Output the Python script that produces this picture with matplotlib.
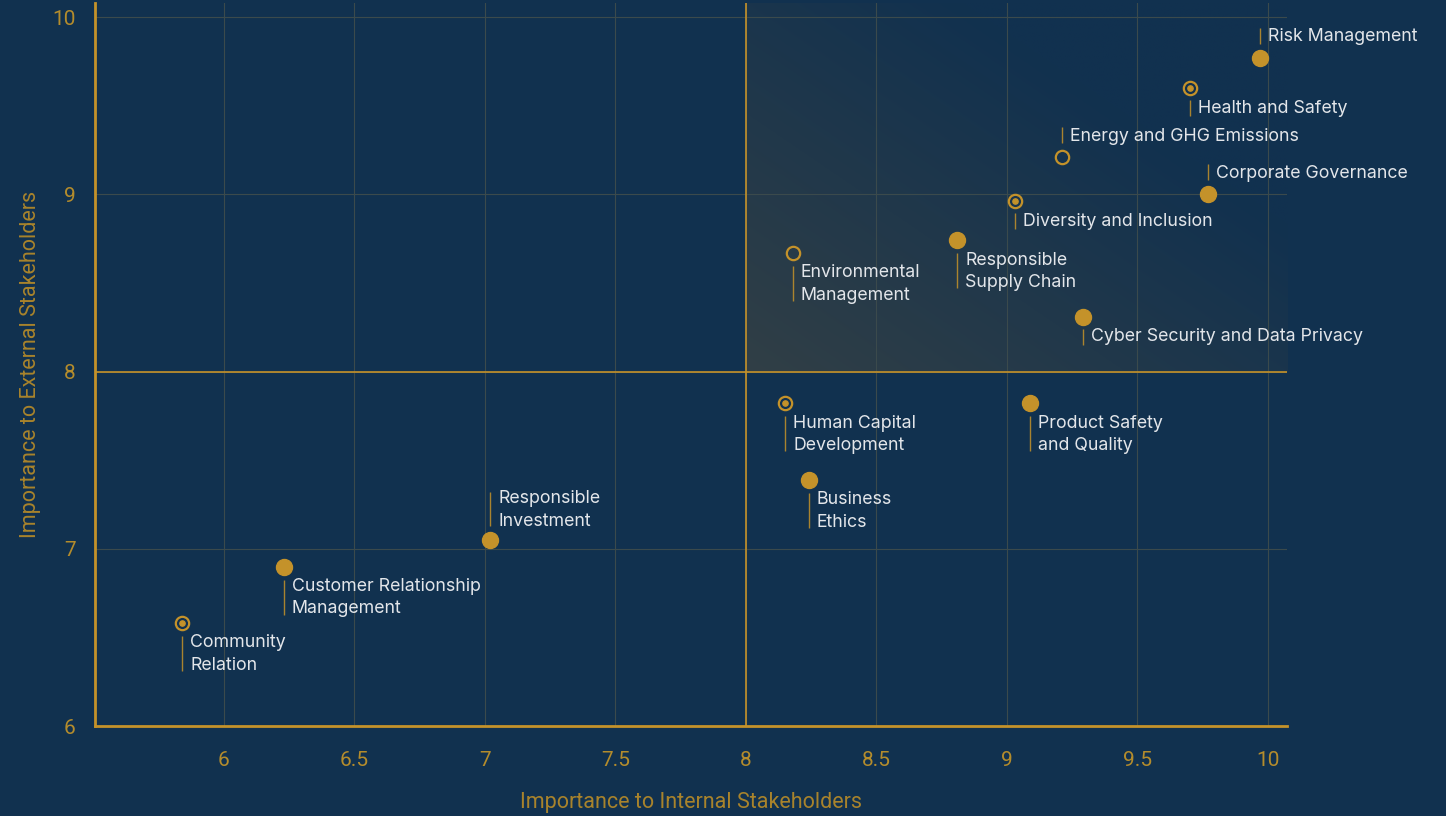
import numpy as np
import matplotlib
matplotlib.use("Agg")
import matplotlib.pyplot as plt

# values
topics = ["Risk Management", "Health and Safety", "Energy and GHG Emissions",
          "Corporate Governance", "Diversity and Inclusion", "Responsible\nSupply Chain",
          "Environmental\nManagement", "Cyber Security and Data Privacy",
          "Human Capital\nDevelopment", "Product Safety\nand Quality", "Business\nEthics",
          "Responsible\nInvestment", "Customer Relationship\nManagement", "Community\nRelation"]
internal = [9.97, 9.70, 9.21, 9.77, 9.03, 8.81, 8.18, 9.29, 8.15, 9.09, 8.24, 7.02, 6.23, 5.84]
external = [9.77, 9.60, 9.21, 9.00, 8.96, 8.74, 8.67, 8.31, 7.82, 7.82, 7.39, 7.05, 6.90, 6.58]
# f = filled, d = ring with dot, o = hollow ring
kind = ["f", "d", "o", "f", "d", "f", "o", "f", "d", "f", "f", "f", "f", "d"]
side = ["up", "down", "up", "up", "down", "down", "down", "down",
        "down", "down", "down", "up", "down", "down"]

xticks = [6, 6.5, 7, 7.5, 8, 8.5, 9, 9.5, 10]
yticks = [6, 7, 8, 9, 10]

navy = "#11314f"
gold = "#c4922a"
txt = "#e3e6ea"
gridc = "#3b4a4c"

fig = plt.figure(figsize=(14.46, 8.16), dpi=100, facecolor=navy)
ax = fig.add_axes([95/1446, 1-726/816, (1287-95)/1446, (726-3)/816])
ax.set_facecolor(navy)
ax.set_xlim(5.506, 10.073)
ax.set_ylim(6, 10.08)

# soft glow in the top-right quadrant
n = 300
u = np.linspace(0, 1, n)
U, V = np.meshgrid(u, u)
s = np.clip((U + V) / 2 / 0.7, 0, 1)[..., None]
light = np.array(matplotlib.colors.to_rgb("#313f46"))
base = np.array(matplotlib.colors.to_rgb(navy))
img = light * (1 - s) + base * s
ax.imshow(img, extent=(8, 10.073, 8, 10.08), origin="lower", aspect="auto", zorder=0.5)

ax.set_xticks(xticks)
ax.set_yticks(yticks)
ax.set_xticklabels([f"{t:g}" for t in xticks])
ax.grid(True, color=gridc, lw=0.8, zorder=1)
ax.set_axisbelow(True)
ax.axvline(8, color=gold, lw=1.2, zorder=2)
ax.axhline(8, color=gold, lw=1.2, zorder=2)

for sp in ["top", "right"]:
    ax.spines[sp].set_visible(False)
for sp in ["left", "bottom"]:
    ax.spines[sp].set_color(gold)
    ax.spines[sp].set_linewidth(2)
ax.tick_params(length=0, colors=gold, labelsize=15)
ax.tick_params(axis="x", pad=18)
ax.tick_params(axis="y", pad=14)
for lab in ax.get_xticklabels() + ax.get_yticklabels():
    lab.set_fontfamily("Roboto")
    lab.set_color("#b48c2c")

ax.set_xlabel("Importance to Internal Stakeholders", fontsize=15.5, color="#a8832c",
              family="Roboto", labelpad=16)
ax.set_ylabel("Importance to External Stakeholders", fontsize=15.5, color="#a8832c",
              family="Roboto", labelpad=8)

# points
for x, y, k in zip(internal, external, kind):
    if k == "f":
        ax.plot(x, y, "o", ms=11.5, color=gold, mec=gold, zorder=5)
    else:
        ax.plot(x, y, "o", ms=9.6, mfc="none", mec=gold, mew=1.6, zorder=5)
        if k == "d":
            ax.plot(x, y, "o", ms=3.8, color=gold, zorder=6)

def shift(x, y, dy):
    X, Y = ax.transData.transform((x, y))
    return ax.transData.inverted().transform((X, Y + dy))[1]

for name, x, y, sd in zip(topics, internal, external, side):
    two = "\n" in name
    if sd == "down":
        t_off, l0, l1 = (-31, -13, -48) if two else (-20, -12, -28)
    else:
        t_off, l0, l1 = (30, 14, 48) if two else (21, 14, 30)
    ax.plot([x, x], [shift(x, y, l0), shift(x, y, l1)], color=gold, lw=1.0,
            alpha=0.85, solid_capstyle="butt", zorder=4)
    ax.annotate(name, (x, y), xytext=(8, t_off), textcoords="offset pixels",
                ha="left", va="center", fontsize=12.8, color=txt, family="Inter",
                linespacing=1.45, zorder=6)

fig.savefig("out.png", dpi=100, facecolor=navy)
